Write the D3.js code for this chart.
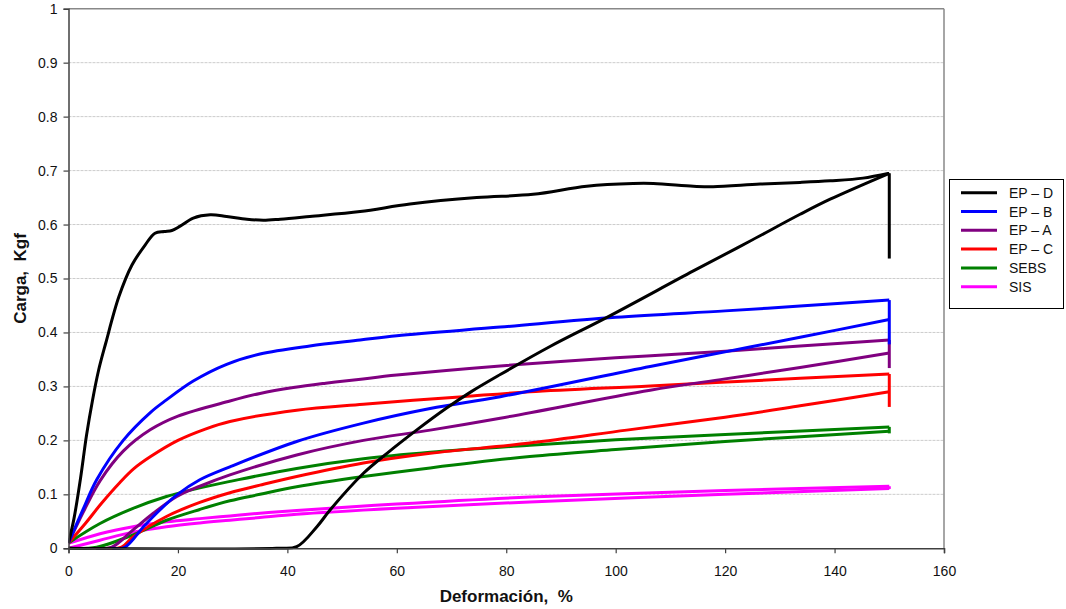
<!DOCTYPE html>
<html>
<head>
<meta charset="utf-8">
<script src="https://cdn.jsdelivr.net/npm/d3@7"></script>
<style>
  html, body { margin: 0; padding: 0; background: #fff; }
  svg { display: block; font-family: "Liberation Sans", Arial, sans-serif; }
</style>
</head>
<body>
<svg id="chart" width="1066" height="609"></svg>
<script>
// ---- Data ----
const xTicks = [0, 20, 40, 60, 80, 100, 120, 140, 160];
const yTicks = [0, 0.1, 0.2, 0.3, 0.4, 0.5, 0.6, 0.7, 0.8, 0.9, 1];

const seriesNames  = ["EP – D", "EP – B", "EP – A", "EP – C", "SEBS", "SIS"];
const seriesColors = ["#000000", "#0000ff", "#800080", "#ff0000", "#008000", "#ff00ff"];

const epD_load = [[0,0.01],[1,0.055],[2.2,0.13],[3.3,0.21],[4.4,0.275],[5.5,0.33],[6.8,0.38],[9.2,0.466],[11.6,0.525],[14,0.562],[15.8,0.584],[17.5,0.587],[18.9,0.589],[20.4,0.597],[22.8,0.612],[25.9,0.618],[28.9,0.615],[32.6,0.61],[35.6,0.608],[38.7,0.61],[44.1,0.615],[53.3,0.624],[62.4,0.638],[74.6,0.65],[84.9,0.656],[94.7,0.671],[103.2,0.676],[106.9,0.676],[114.2,0.671],[117.8,0.670],[126.4,0.675],[133.7,0.678],[139.2,0.681],[145.2,0.686],[150,0.695]];
const epD_unload = [[0,0],[38,0],[41.7,0.003],[45.4,0.04],[47.8,0.071],[53.9,0.139],[58.2,0.176],[63.6,0.219],[69.1,0.26],[73.4,0.289],[78.9,0.322],[88,0.374],[98.4,0.428],[114.2,0.514],[124.5,0.569],[133.7,0.619],[139.2,0.647],[150,0.695]];
const epD_drop = [0.695, 0.537];

const epB_load = [[0,0.01],[2.7,0.073],[5.15,0.127],[10,0.2],[15,0.252],[17.9,0.275],[22.8,0.31],[28.9,0.341],[35,0.36],[44.1,0.375],[53.3,0.386],[60,0.394],[78.9,0.41],[100,0.428],[120,0.44],[133.7,0.449],[150,0.46]];
const epB_unload = [[8,0],[10.3,0.002],[13.7,0.04],[16.7,0.071],[19.8,0.099],[24,0.127],[29.5,0.151],[41.7,0.198],[53.9,0.232],[66.1,0.259],[78.9,0.281],[106.3,0.337],[120,0.364],[133.7,0.391],[150,0.424]];
const epB_drop = [0.46, 0.378];

const epA_load = [[0,0.01],[2.7,0.067],[5.76,0.125],[10,0.18],[15,0.22],[20,0.245],[29.5,0.273],[35,0.287],[41.1,0.298],[47,0.306],[53,0.313],[60,0.321],[78.9,0.338],[100,0.353],[120,0.365],[133.7,0.375],[150,0.386]];
const epA_unload = [[5,0],[7.9,0.002],[11.8,0.034],[15.5,0.065],[19.8,0.096],[24,0.115],[29.5,0.136],[41.7,0.173],[53.9,0.2],[66.1,0.219],[78.9,0.241],[106.3,0.293],[120,0.314],[133.7,0.335],[150,0.362]];
const epA_drop = [0.386, 0.334];

const epC_load = [[0,0.01],[3,0.045],[6,0.083],[9.4,0.122],[12,0.148],[15,0.17],[20,0.2],[25,0.221],[29.5,0.235],[41.7,0.256],[53.9,0.267],[72.1,0.281],[84.3,0.29],[106.3,0.301],[133.7,0.315],[150,0.323]];
const epC_unload = [[7,0],[9.7,0.002],[11.8,0.021],[17.9,0.059],[24,0.085],[29.5,0.103],[35,0.117],[41.7,0.133],[53.9,0.158],[66.1,0.176],[84.3,0.195],[102,0.219],[120,0.243],[133.7,0.264],[150,0.29]];
const epC_drop = [0.323, 0.262];

const sebs_load = [[0,0.01],[5.76,0.046],[11.8,0.074],[17.9,0.096],[24,0.112],[30,0.125],[41.7,0.148],[53.9,0.166],[66.1,0.178],[84.3,0.191],[100,0.201],[120,0.211],[150,0.225]];
const sebs_unload = [[0,0],[5.15,0.002],[11.8,0.025],[17.9,0.052],[24,0.072],[29.5,0.088],[35,0.1],[41.7,0.114],[53.9,0.133],[66.1,0.149],[84.3,0.17],[100,0.183],[120,0.198],[150,0.217]];
const sebs_drop = [0.225, 0.213];

const sis_load = [[0,0.009],[5.76,0.027],[11.8,0.04],[17.9,0.049],[24,0.055],[29.5,0.06],[35,0.065],[41.7,0.07],[60,0.082],[84.3,0.095],[120,0.107],[150,0.115]];
const sis_unload = [[0,0],[5.76,0.015],[11.8,0.03],[17.9,0.04],[24,0.047],[29.5,0.052],[35,0.057],[41.7,0.063],[60,0.074],[84.3,0.086],[120,0.1],[150,0.111]];
const sis_drop = [0.115, 0.110];

const holdStrain = 150;

// ---- Chart ----
const svg = d3.select("#chart");
const plot = { left: 68.5, right: 944, top: 8.7, bottom: 548.3 };

const x = d3.scaleLinear().domain([0, 160]).range([plot.left, plot.right]);
const y = d3.scaleLinear().domain([0, 1]).range([plot.bottom, plot.top]);

svg.append("defs").append("clipPath").attr("id", "clip")
  .append("rect").attr("x", plot.left).attr("y", plot.top - 3)
  .attr("width", plot.right - plot.left).attr("height", plot.bottom - plot.top + 4.5);

// gridlines
svg.append("g")
  .selectAll("line")
  .data(yTicks.filter(d => d > 0 && d < 1))
  .join("line")
  .attr("x1", plot.left).attr("x2", plot.right)
  .attr("y1", d => y(d)).attr("y2", d => y(d))
  .attr("stroke", "#cccccc").attr("stroke-width", 1)
  .attr("stroke-dasharray", "3,1");

// top and right border
svg.append("line").attr("x1", plot.left).attr("x2", plot.right)
  .attr("y1", y(1)).attr("y2", y(1)).attr("stroke", "#888").attr("stroke-width", 1.5);
svg.append("line").attr("x1", plot.right).attr("x2", plot.right)
  .attr("y1", plot.top).attr("y2", plot.bottom).attr("stroke", "#888").attr("stroke-width", 1.5);

// series
const seriesData = [
  { load: epD_load, unload: epD_unload, drop: epD_drop },
  { load: epB_load, unload: epB_unload, drop: epB_drop },
  { load: epA_load, unload: epA_unload, drop: epA_drop },
  { load: epC_load, unload: epC_unload, drop: epC_drop },
  { load: sebs_load, unload: sebs_unload, drop: sebs_drop },
  { load: sis_load, unload: sis_unload, drop: sis_drop }
];

const line = d3.line().x(d => x(d[0])).y(d => y(d[1])).curve(d3.curveCatmullRom.alpha(0.5));
const gSeries = svg.append("g").attr("clip-path", "url(#clip)");
for (let i = seriesData.length - 1; i >= 0; i--) {
  const s = seriesData[i];
  const c = seriesColors[i];
  gSeries.append("path").attr("d", line(s.unload))
    .attr("fill", "none").attr("stroke", c).attr("stroke-width", 3).attr("stroke-linejoin", "round");
  gSeries.append("path").attr("d", line(s.load))
    .attr("fill", "none").attr("stroke", c).attr("stroke-width", 3).attr("stroke-linejoin", "round");
  gSeries.append("line")
    .attr("x1", x(holdStrain)).attr("x2", x(holdStrain))
    .attr("y1", y(s.drop[0])).attr("y2", y(s.drop[1]))
    .attr("stroke", c).attr("stroke-width", 3);
}

// axes
const xAxis = d3.axisBottom(x).tickValues(xTicks).tickSize(5).tickPadding(13).tickFormat(d => String(d));
const gx = svg.append("g").attr("transform", `translate(0,${plot.bottom})`).call(xAxis);
gx.select(".domain").attr("stroke", "#404040").attr("stroke-width", 1.5);
gx.selectAll(".tick line").attr("stroke", "#404040").attr("stroke-width", 1.2);
gx.selectAll(".tick text").attr("font-size", 14).attr("fill", "#111")
  .attr("font-family", "Liberation Sans, Arial, sans-serif");

const yAxis = d3.axisLeft(y).tickValues(yTicks).tickSize(5).tickPadding(6).tickFormat(d => String(+d.toFixed(1)));
const gy = svg.append("g").attr("transform", `translate(${plot.left},0)`).call(yAxis);
gy.select(".domain").attr("stroke", "#404040").attr("stroke-width", 1.5);
gy.selectAll(".tick line").attr("stroke", "#404040").attr("stroke-width", 1.2);
gy.selectAll(".tick text").attr("font-size", 14).attr("fill", "#111")
  .attr("font-family", "Liberation Sans, Arial, sans-serif");

// axis titles
svg.append("text")
  .attr("x", (plot.left + plot.right) / 2).attr("y", 601.5)
  .attr("text-anchor", "middle").attr("font-size", 17).attr("font-weight", "bold")
  .attr("fill", "#111").style("white-space", "pre")
  .text("Deformación,  %");

svg.append("text")
  .attr("transform", `translate(25.5,${(plot.top + plot.bottom) / 2}) rotate(-90)`)
  .attr("text-anchor", "middle").attr("font-size", 17).attr("font-weight", "bold")
  .attr("fill", "#111").style("white-space", "pre")
  .text("Carga,  Kgf");

// legend
const lg = svg.append("g");
lg.append("rect").attr("x", 949.5).attr("y", 179.5).attr("width", 114).attr("height", 129)
  .attr("fill", "#fff").attr("stroke", "#000").attr("stroke-width", 1);
seriesNames.forEach((name, i) => {
  const ly = 192.7 + i * 18.8;
  lg.append("line").attr("x1", 961).attr("x2", 997).attr("y1", ly).attr("y2", ly)
    .attr("stroke", seriesColors[i]).attr("stroke-width", 3);
  lg.append("text").attr("x", 1009).attr("y", ly + 5).attr("font-size", 14)
    .attr("fill", "#111").text(name);
});
</script>
</body>
</html>
